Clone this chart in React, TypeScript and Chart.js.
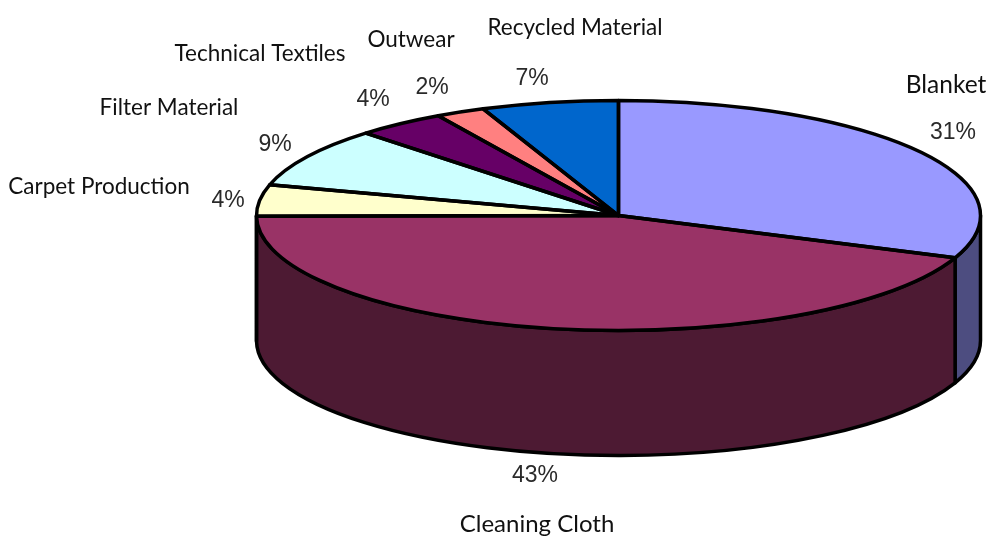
import React, { useEffect, useRef } from "react";
import { Chart, registerables } from "chart.js";

Chart.register(...registerables);

const categories = ["Blanket", "Cleaning Cloth", "Carpet Production", "Filter Material", "Technical Textiles", "Outwear", "Recycled Material"];
// printed shares, as written next to the slices
const shareLabels = ["31%", "43%", "4%", "9%", "4%", "2%", "7%"];
// slice sizes as they are drawn in the picture
const sliceValues = [31.0, 43.9, 4.4, 8.4, 4.0, 2.2, 6.1];
const topColors = ["#9999FF", "#993366", "#FFFFCC", "#CCFFFF", "#660066", "#FF8080", "#0066CC"];
const sideColors = ["#4D4D80", "#4D1A33", "#808066", "#668080", "#330033", "#804040", "#003366"];

// text anchors (centre x, centre y)
const nameAnchors = [[946, 85], [537, 524], [99, 187], [169, 108], [260, 54], [411, 40], [575, 28]];
const nameSizes = [24.5, 24, 22.5, 22.5, 22.5, 22.5, 22.5];
const shareAnchors = [[953, 133], [535, 476], [228, 201], [275, 145], [373, 100], [432, 88], [532, 79]];

const RX = 362;
const RY = 115;
const DEPTH = 125;
const LINE = 3.5;

const pie3d = {
  id: "pie3d",
  beforeDatasetsDraw(chart: any) {
    const { ctx } = chart;
    const arcs = chart.getDatasetMeta(0).data;
    const { x: cx, y: cy, outerRadius } = arcs[0];
    ctx.save();
    ctx.lineWidth = LINE;
    ctx.strokeStyle = "#000";
    ctx.lineJoin = "round";
    arcs.forEach((arc: any, i: number) => {
      const a0 = Math.max(arc.startAngle, 0);
      const a1 = Math.min(arc.endAngle, Math.PI);
      if (a1 <= a0) return;
      ctx.beginPath();
      ctx.ellipse(cx, cy, RX, RY, 0, a0, a1);
      ctx.ellipse(cx, cy + DEPTH, RX, RY, 0, a1, a0, true);
      ctx.closePath();
      ctx.fillStyle = sideColors[i];
      ctx.fill();
      ctx.stroke();
    });
    ctx.restore();
    ctx.save();
    ctx.translate(cx, cy);
    ctx.scale(RX / outerRadius, RY / outerRadius);
    ctx.translate(-cx, -cy);
  },
  afterDatasetsDraw(chart: any) {
    const { ctx } = chart;
    ctx.restore();
    const arcs = chart.getDatasetMeta(0).data;
    const { x: cx, y: cy } = arcs[0];
    ctx.save();
    ctx.lineWidth = LINE;
    ctx.strokeStyle = "#000";
    ctx.lineJoin = "round";
    arcs.forEach((arc: any) => {
      ctx.beginPath();
      ctx.moveTo(cx, cy);
      ctx.ellipse(cx, cy, RX, RY, 0, arc.startAngle, arc.endAngle);
      ctx.closePath();
      ctx.stroke();
    });
    ctx.restore();
  },
  afterDraw(chart: any) {
    const { ctx } = chart;
    ctx.save();
    ctx.textAlign = "center";
    ctx.textBaseline = "middle";
    ctx.fillStyle = "#111";
    categories.forEach((name, i) => {
      ctx.font = nameSizes[i] + "px Lato";
      ctx.fillText(name, nameAnchors[i][0], nameAnchors[i][1]);
    });
    ctx.fillStyle = "#2a2a2a";
    ctx.font = '23px "Liberation Sans"';
    shareLabels.forEach((s, i) => ctx.fillText(s, shareAnchors[i][0], shareAnchors[i][1]));
    ctx.restore();
  },
};

export default function App() {
  const ref = useRef<HTMLCanvasElement>(null);
  useEffect(() => {
    document.body.style.margin = "0";
    const chart = new Chart(ref.current!, {
      type: "pie",
      data: {
        labels: categories,
        datasets: [{ data: sliceValues, backgroundColor: topColors, borderWidth: 0, clip: false } as any],
      },
      options: {
        responsive: false,
        animation: false,
        layout: { padding: { left: 250, right: 0, top: 0, bottom: 105 } },
        plugins: { legend: { display: false }, tooltip: { enabled: false } },
      },
      plugins: [pie3d],
    } as any);
    return () => chart.destroy();
  }, []);
  return <canvas ref={ref} width={987} height={536} style={{ display: "block", background: "#fff" }} />;
}
